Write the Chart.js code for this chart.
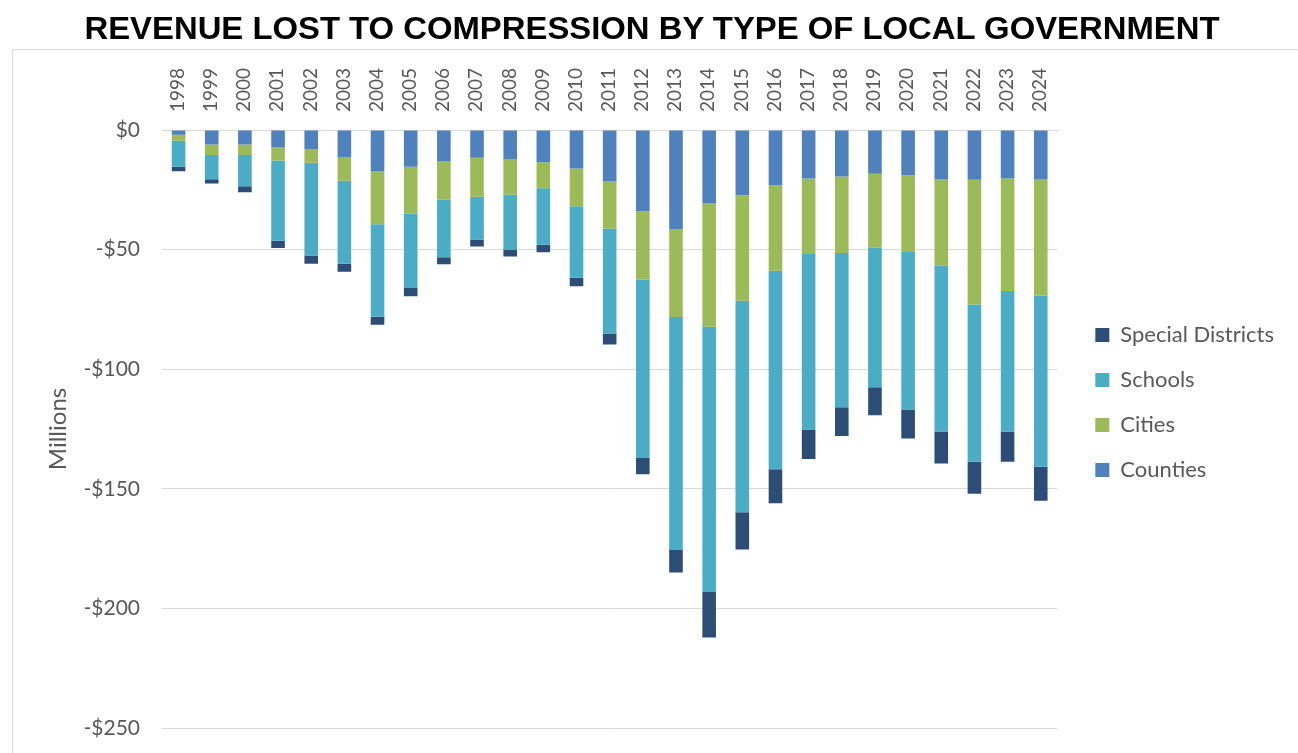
<!DOCTYPE html>
<html>
<head>
<meta charset="utf-8">
<script src="https://cdn.jsdelivr.net/npm/chart.js@4.4.1/dist/chart.umd.min.js"></script>
<style>
  html, body { margin: 0; padding: 0; background: #ffffff; }
  #wrap { position: relative; width: 1298px; height: 753px; overflow: hidden; }
  #title {
    position: absolute; top: 12px; left: 652px;
    font-family: "Liberation Sans", Arial, sans-serif; font-weight: bold;
    font-size: 32px; line-height: 32px; color: #000; white-space: nowrap;
    transform-origin: 50% 50%;
  }
  #frameTop { position: absolute; left: 12px; top: 49px; width: 1286px; height: 1px; background: #d9d9d9; }
  #frameLeft { position: absolute; left: 12px; top: 49px; width: 1px; height: 704px; background: #d9d9d9; }
  canvas { position: absolute; left: 0; top: 0; }
</style>
</head>
<body>
<div id="wrap">
  <div id="frameTop"></div>
  <div id="frameLeft"></div>
  <canvas id="chart" width="1298" height="753"></canvas>
  <div id="title">REVENUE LOST TO COMPRESSION BY TYPE OF LOCAL GOVERNMENT</div>
</div>
<script>
const years = ['1998','1999','2000','2001','2002','2003','2004','2005','2006','2007','2008','2009','2010','2011','2012','2013','2014','2015','2016','2017','2018','2019','2020','2021','2022','2023','2024'];

// Revenue lost, millions of dollars (negative = lost)
const counties = [-2.0,-6.1,-6.1,-7.3,-7.9,-11.5,-17.3,-15.4,-13.2,-11.6,-12.3,-13.5,-16.1,-21.5,-34.0,-41.6,-30.7,-27.3,-23.1,-20.3,-19.4,-18.3,-18.9,-20.7,-20.8,-20.3,-20.7];
const cities = [-2.5,-4.3,-4.4,-5.5,-5.8,-9.7,-22.1,-19.6,-16.0,-16.3,-14.8,-10.8,-15.8,-19.8,-28.5,-36.6,-51.6,-44.1,-35.7,-31.5,-32.0,-30.9,-32.1,-36.0,-52.1,-47.0,-48.6];
const schools = [-10.9,-10.2,-13.0,-33.5,-38.8,-34.7,-38.7,-31.1,-24.0,-17.9,-22.9,-23.7,-29.9,-43.8,-74.6,-97.4,-110.8,-88.4,-83.0,-73.4,-64.5,-58.3,-65.9,-69.3,-65.8,-58.7,-71.5];
const specialDistricts = [-1.8,-1.8,-2.5,-3.0,-3.4,-3.4,-3.3,-3.4,-2.9,-2.9,-2.9,-3.1,-3.5,-4.6,-6.8,-9.4,-19.1,-15.6,-14.2,-12.3,-12.0,-11.8,-12.1,-13.4,-13.4,-12.7,-14.2];

const seriesNames = ['Counties','Cities','Schools','Special Districts'];
const seriesColors = ['#4F81BD','#9BBB59','#4BACC6','#2C4D75'];
const yTickValues = [0,-50,-100,-150,-200,-250];

// fit title width
(function(){
  const t = document.getElementById('title');
  const w = t.getBoundingClientRect().width;
  const s = 1135 / w;
  t.style.transform = 'translateX(-50%) scaleX(' + s + ')';
})();

const textColor = '#595959';
const gridColor = '#d9d9d9';
const baseFont = 'Lato, "Open Sans", sans-serif';

const seriesData = [counties, cities, schools, specialDistricts];
new Chart(document.getElementById('chart'), {
  type: 'bar',
  data: {
    labels: years,
    datasets: seriesNames.map((n, i) => ({
      label: n,
      data: seriesData[i],
      backgroundColor: seriesColors[i],
      borderWidth: 0,
      categoryPercentage: 1,
      barPercentage: 0.41
    }))
  },
  options: {
    responsive: false,
    animation: false,
    layout: { padding: { top: 62, left: 44, right: 20, bottom: 25 } },
    plugins: {
      title: { display: false },
      tooltip: { enabled: false },
      legend: {
        position: 'right',
        reverse: true,
        title: { display: true, text: ' ', font: { size: 1, lineHeight: 1 }, padding: { top: 0, bottom: 14 } },
        labels: {
          boxWidth: 14, boxHeight: 14, padding: 23,
          color: textColor,
          font: { family: baseFont, size: 22 }
        }
      }
    },
    scales: {
      x: {
        position: 'top',
        stacked: true,
        grid: { display: false, drawTicks: false },
        border: { display: true, color: gridColor },
        afterFit: (s) => { s.height = 68; },
        ticks: {
          minRotation: 90, maxRotation: 90, padding: 18, labelOffset: 22,
          color: textColor, autoSkip: false,
          font: { family: baseFont, size: 19 }
        }
      },
      y: {
        stacked: true,
        min: -250, max: 0,
        afterBuildTicks: (axis) => { axis.ticks = yTickValues.map(v => ({ value: v })); },
        afterFit: (s) => { s.width = 118; s.paddingTop = 0; s.paddingBottom = 0; },
        grid: { color: gridColor, drawTicks: false },
        border: { display: false },
        ticks: {
          padding: 22, color: textColor,
          font: { family: baseFont, size: 21 },
          callback: (v) => v === 0 ? '$0' : '-$' + Math.abs(v)
        },
        title: {
          display: true, text: 'Millions', color: textColor,
          font: { family: baseFont, size: 24 }, padding: { top: 0, bottom: 0 }
        }
      },
      pad: {
        type: 'linear', position: 'right', display: true,
        grid: { display: false, drawTicks: false },
        border: { display: false },
        ticks: { display: false },
        afterFit: (s) => { s.width = 15; s.paddingTop = 0; s.paddingBottom = 0; }
      }
    }
  }
});
</script>
</body>
</html>
